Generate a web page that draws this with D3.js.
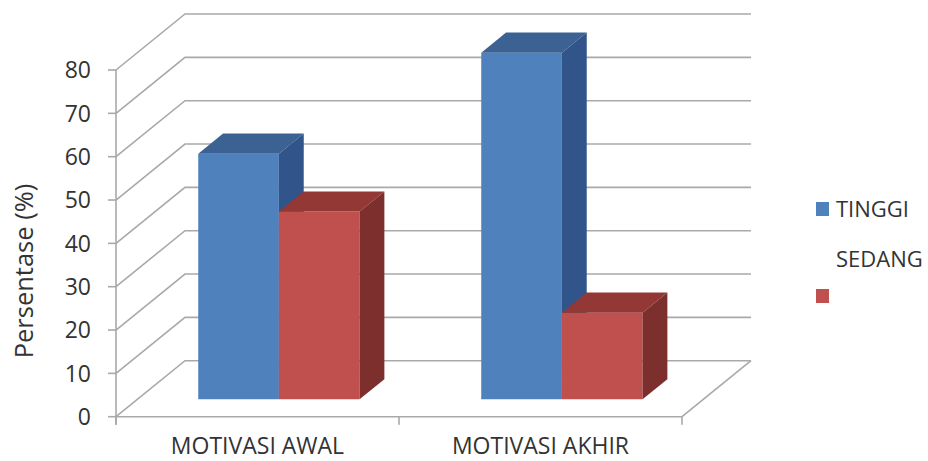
<!DOCTYPE html>
<html>
<head>
<meta charset="utf-8">
<script src="https://cdn.jsdelivr.net/npm/d3@7"></script>
<style>
  html, body { margin: 0; padding: 0; background: #fff; }
  svg { display: block; }
  text { font-family: "Open Sans", "Noto Sans", sans-serif; fill: #333; }
</style>
</head>
<body>
<svg id="chart" width="928" height="461"></svg>
<script>
// Data
const categories = ["MOTIVASI AWAL", "MOTIVASI AKHIR"];
const seriesNames = ["TINGGI", "SEDANG"];
const tinggiValues = [56.67, 80];
const sedangValues = [43.33, 20];
const yTicks = [0, 10, 20, 30, 40, 50, 60, 70, 80];

const seriesValues = [tinggiValues, sedangValues];
const palette = {
  TINGGI: { front: "#4f81bd", top: "#3b6293", side: "#31548a" },
  SEDANG: { front: "#c0504d", top: "#933835", side: "#7c2f2d" }
};

const svg = d3.select("#chart");

// Front plane scales
const y = d3.scaleLinear().domain([0, 80]).range([416.7, 70]);
const x = d3.scaleBand().domain(categories).range([116, 682]);
const inner = d3.scaleBand().domain(seriesNames)
  .range([x.bandwidth() * 0.215, x.bandwidth() * 0.785]);

// Oblique depth projection: z = 0 front plane, z = 1 back wall
const depthX = 69, depthY = 56;
const px = (xv, z) => xv + z * depthX;
const py = (v, z) => y(v) - z * depthY;

const gridColor = "#a9a9a9";
const grid = svg.append("g")
  .attr("fill", "none")
  .attr("stroke", gridColor)
  .attr("stroke-width", 1.6);

// Gridlines on side wall and back wall
yTicks.forEach(t => {
  grid.append("polyline")
    .attr("points", [
      [px(116, 0), py(t, 0)],
      [px(116, 1), py(t, 1)],
      [px(682, 1), py(t, 1)]
    ].map(p => p.join(",")).join(" "));
});

// Floor: front edge and right edge
grid.append("line")
  .attr("x1", px(116, 0)).attr("y1", y(0))
  .attr("x2", px(682, 0)).attr("y2", y(0));
grid.append("line")
  .attr("x1", px(682, 1)).attr("y1", py(0, 1))
  .attr("x2", px(682, 0)).attr("y2", py(0, 0));

// Vertical value axis with tick marks
grid.append("line")
  .attr("x1", 116).attr("y1", y(80))
  .attr("x2", 116).attr("y2", y(0) + 8);
yTicks.forEach(t => {
  grid.append("line")
    .attr("x1", 108).attr("y1", y(t))
    .attr("x2", 116).attr("y2", y(t));
});

// Category tick marks
const catEdges = [x.range()[0], ...categories.slice(1).map(c => x(c)), x.range()[1]];
catEdges.forEach(cx => {
  grid.append("line")
    .attr("x1", cx).attr("y1", y(0))
    .attr("x2", cx).attr("y2", y(0) + 8);
});

// Value tick labels
svg.append("g").selectAll("text")
  .data(yTicks)
  .join("text")
  .attr("x", 91)
  .attr("y", d => y(d))
  .attr("dy", "0.36em")
  .attr("text-anchor", "end")
  .attr("font-size", 23)
  .text(d => d);

// Category labels
svg.append("g").selectAll("text")
  .data(categories)
  .join("text")
  .attr("x", d => x(d) + x.bandwidth() / 2)
  .attr("y", 454)
  .attr("text-anchor", "middle")
  .attr("font-size", 23)
  .text(d => d);

// Axis title
svg.append("text")
  .attr("transform", "translate(33,271) rotate(-90)")
  .attr("text-anchor", "middle")
  .attr("font-size", 25.5)
  .text("Persentase (%)");

// 3D bars
const z0 = 0.31, z1 = 0.67;
const bars = [];
categories.forEach((c, ci) => {
  seriesNames.forEach((s, si) => {
    bars.push({ cat: c, series: s, value: seriesValues[si][ci] });
  });
});

const pts = arr => arr.map(p => p.join(",")).join(" ");
const barG = svg.append("g");
bars.forEach(b => {
  const x0 = x(b.cat) + inner(b.series);
  const x1 = x0 + inner.bandwidth();
  const col = palette[b.series];
  const g = barG.append("g");
  // front face
  g.append("polygon")
    .attr("fill", col.front)
    .attr("points", pts([
      [px(x0, z0), py(0, z0)], [px(x1, z0), py(0, z0)],
      [px(x1, z0), py(b.value, z0)], [px(x0, z0), py(b.value, z0)]
    ]));
  // top face
  g.append("polygon")
    .attr("fill", col.top)
    .attr("points", pts([
      [px(x0, z0), py(b.value, z0)], [px(x1, z0), py(b.value, z0)],
      [px(x1, z1), py(b.value, z1)], [px(x0, z1), py(b.value, z1)]
    ]));
  // right side face
  g.append("polygon")
    .attr("fill", col.side)
    .attr("points", pts([
      [px(x1, z0), py(0, z0)], [px(x1, z1), py(0, z1)],
      [px(x1, z1), py(b.value, z1)], [px(x1, z0), py(b.value, z0)]
    ]));
});

// Legend
const legend = svg.append("g");
legend.append("rect").attr("x", 816).attr("y", 202).attr("width", 13).attr("height", 14)
  .attr("fill", palette.TINGGI.front);
legend.append("text").attr("x", 836).attr("y", 217).attr("font-size", 22).text("TINGGI");
legend.append("text").attr("x", 836).attr("y", 267).attr("font-size", 22).text("SEDANG");
legend.append("rect").attr("x", 816).attr("y", 289).attr("width", 13).attr("height", 14)
  .attr("fill", palette.SEDANG.front);
</script>
</body>
</html>
